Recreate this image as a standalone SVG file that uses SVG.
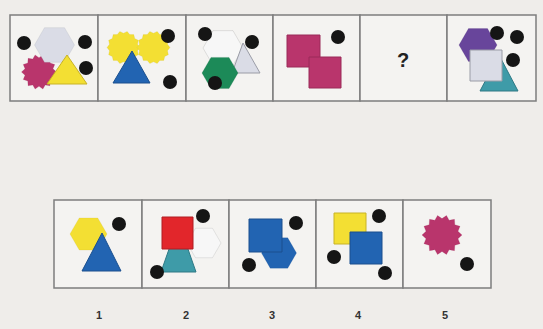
<svg xmlns="http://www.w3.org/2000/svg" width="543" height="329" viewBox="0 0 543 329">
<style>
.cell{fill:#f4f3f1;stroke:#7d7d7d;stroke-width:1.5}
.dot{fill:#151515}
.lbl{font-family:"Liberation Sans",Arial,sans-serif;font-weight:bold;font-size:11px;fill:#333;text-anchor:middle}
.sh{stroke-width:1;vector-effect:non-scaling-stroke}
.mag{fill:#b9356c;stroke:#9a2a58}
.yel{fill:#f3df33;stroke:#c8b326}
.blu{fill:#2264b2;stroke:#1a4f8e}
.gry{fill:#dadce6;stroke:#9a9ca6}
.grn{fill:#1c8a58;stroke:#14673f}
.tea{fill:#3e9ba8;stroke:#2e7985}
.pur{fill:#68459b;stroke:#513578}
.red{fill:#e2262b;stroke:#b01d22}
.wht{fill:#f7f7f7;stroke:#777}
</style>
<defs>
<polygon id="star" points="100,0 79.9,18.2 90.1,43.4 64.1,51.1 62.4,78.2 35.6,73.9 22.3,97.5 0,82 -22.3,97.5 -35.6,73.9 -62.4,78.2 -64.1,51.1 -90.1,43.4 -79.9,18.2 -100,0 -79.9,-18.2 -90.1,-43.4 -64.1,-51.1 -62.4,-78.2 -35.6,-73.9 -22.3,-97.5 0,-82 22.3,-97.5 35.6,-73.9 62.4,-78.2 64.1,-51.1 90.1,-43.4 79.9,-18.2"/>
<polygon id="starb" points="100,0 84.8,19.4 90.1,43.4 68,54.2 62.4,78.2 37.7,78.4 22.3,97.5 0,87 -22.3,97.5 -37.7,78.4 -62.4,78.2 -68,54.2 -90.1,43.4 -84.8,19.4 -100,0 -84.8,-19.4 -90.1,-43.4 -68,-54.2 -62.4,-78.2 -37.7,-78.4 -22.3,-97.5 0,-87 22.3,-97.5 37.7,-78.4 62.4,-78.2 68,-54.2 90.1,-43.4 84.8,-19.4"/>
<polygon id="hex" points="100,0 50,86.6 -50,86.6 -100,0 -50,-86.6 50,-86.6"/>
</defs>
<rect width="543" height="329" fill="#efedea"/>

<g id="top-1">
<rect class="cell" x="10" y="15" width="88" height="86"/>
<use href="#star" class="sh mag" transform="translate(39,72) scale(0.175)"/>
<use href="#hex" class="sh gry" transform="translate(54.5,45) scale(0.2)"/>
<polygon class="sh yel" points="67,55 87,84 47,84"/>
<circle class="dot" cx="24" cy="43" r="7"/>
<circle class="dot" cx="85" cy="42" r="7"/>
<circle class="dot" cx="86" cy="68" r="7"/>
</g>
<g id="top-2">
<rect class="cell" x="98" y="15" width="88" height="86"/>
<use href="#starb" class="sh yel" transform="translate(123.5,47.5) scale(0.165)"/>
<use href="#starb" class="sh yel" transform="translate(153.5,47.5) scale(0.165)"/>
<polygon class="sh blu" points="132,51 150,83 113,83"/>
<circle class="dot" cx="168" cy="36" r="7"/>
<circle class="dot" cx="170" cy="82" r="7"/>
</g>
<g id="top-3">
<rect class="cell" x="186" y="15" width="87" height="86"/>
<use href="#hex" class="sh wht" transform="translate(223,48) scale(0.2)"/>
<polygon class="sh gry" points="243,43 260,73 232,73"/>
<use href="#hex" class="sh grn" transform="translate(220,73) scale(0.18)"/>
<circle class="dot" cx="205" cy="34" r="7"/>
<circle class="dot" cx="252" cy="42" r="7"/>
<circle class="dot" cx="215" cy="83" r="7"/>
</g>
<g id="top-4">
<rect class="cell" x="273" y="15" width="87" height="86"/>
<rect class="sh mag" x="287" y="35" width="33" height="32"/>
<rect class="sh mag" x="309" y="57" width="32" height="31"/>
<circle class="dot" cx="338" cy="37" r="7"/>
</g>
<g id="top-5">
<rect class="cell" x="360" y="15" width="87" height="86"/>
<text x="403" y="67" font-family="Liberation Sans, Arial, sans-serif" font-weight="bold" font-size="20" fill="#222" text-anchor="middle">?</text>
</g>
<g id="top-6">
<rect class="cell" x="447" y="15" width="89" height="86"/>
<use href="#hex" class="sh pur" transform="translate(478,45) scale(0.19)"/>
<polygon class="sh tea" points="499,55 518,91 480,91"/>
<rect class="sh gry" x="470" y="50" width="32" height="31"/>
<circle class="dot" cx="497" cy="33" r="7"/>
<circle class="dot" cx="517" cy="37" r="7"/>
<circle class="dot" cx="513" cy="60" r="7"/>
</g>

<g id="opt-1">
<rect class="cell" x="54" y="200" width="88" height="88"/>
<use href="#hex" class="sh yel" transform="translate(88.5,234) scale(0.185)"/>
<polygon class="sh blu" points="102,233 121,271 82,271"/>
<circle class="dot" cx="119" cy="224" r="7"/>
<text class="lbl" x="99" y="319">1</text>
</g>
<g id="opt-2">
<rect class="cell" x="142" y="200" width="87" height="88"/>
<use href="#hex" class="sh wht" transform="translate(204,243) scale(0.17)"/>
<polygon class="sh tea" points="178.5,222 196,272 161,272"/>
<rect class="sh red" x="162" y="217" width="31" height="32"/>
<circle class="dot" cx="203" cy="216" r="7"/>
<circle class="dot" cx="157" cy="272" r="7"/>
<text class="lbl" x="186" y="319">2</text>
</g>
<g id="opt-3">
<rect class="cell" x="229" y="200" width="87" height="88"/>
<use href="#hex" class="sh blu" transform="translate(279,253) scale(0.175)"/>
<rect class="sh blu" x="249" y="219" width="33" height="33"/>
<circle class="dot" cx="249" cy="265" r="7"/>
<circle class="dot" cx="296" cy="223" r="7"/>
<text class="lbl" x="272" y="319">3</text>
</g>
<g id="opt-4">
<rect class="cell" x="316" y="200" width="87" height="88"/>
<rect class="sh yel" x="334" y="213" width="32" height="31"/>
<rect class="sh blu" x="350" y="232" width="32" height="32"/>
<circle class="dot" cx="379" cy="216" r="7"/>
<circle class="dot" cx="334" cy="257" r="7"/>
<circle class="dot" cx="385" cy="273" r="7"/>
<text class="lbl" x="358" y="319">4</text>
</g>
<g id="opt-5">
<rect class="cell" x="403" y="200" width="88" height="88"/>
<use href="#star" class="sh mag" transform="translate(442,235) scale(0.2)"/>
<circle class="dot" cx="467" cy="264" r="7"/>
<text class="lbl" x="445" y="319">5</text>
</g>
</svg>
